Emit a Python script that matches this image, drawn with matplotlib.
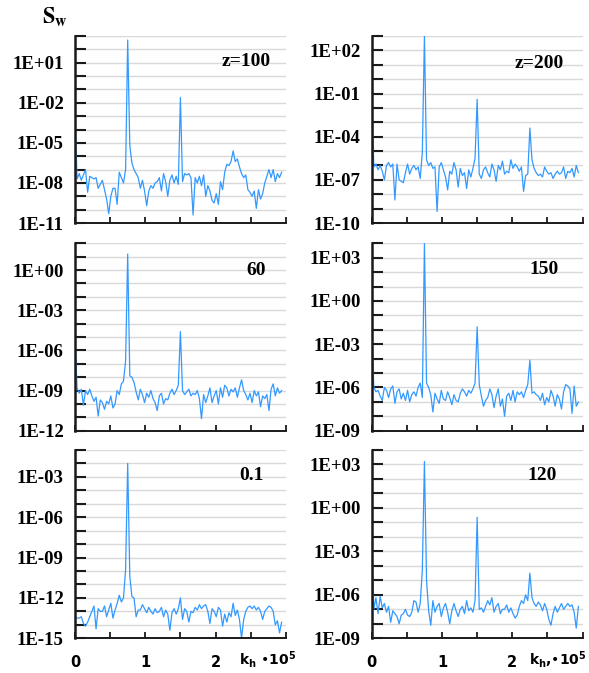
import numpy as np
import matplotlib.pyplot as plt
from matplotlib.ticker import FixedLocator, FuncFormatter, MultipleLocator, NullLocator

# k_h step (in units of 1e-5); one value per step in every series below
dk = 0.03

# log10(S_w)
logs_z100 = [
    -3.0, -7.7, -7.3, -7.8, -7.4, -7.0, -8.7, -7.5, -7.6, -7.7,
    -7.6, -8.4, -8.1, -7.8, -8.5, -9.2, -10.3, -9.0, -8.4, -8.4,
    -9.6, -7.2, -7.6, -8.0, -7.0, 2.7, -5.2, -6.5, -7.0, -7.3,
    -7.6, -8.4, -7.8, -8.6, -9.7, -8.6, -8.2, -8.4, -8.0, -7.9,
    -7.6, -8.6, -7.3, -7.9, -9.0, -7.8, -7.4, -8.0, -7.5, -8.1,
    -1.6, -7.9, -7.3, -7.4, -7.3, -7.6, -10.4, -7.6, -8.0, -7.5,
    -8.2, -7.4, -9.0, -8.2, -8.6, -9.3, -9.5, -8.8, -9.6, -7.9,
    -8.5, -7.2, -6.6, -6.7, -6.4, -5.6, -6.4, -6.2, -6.8, -7.3,
    -7.6, -7.4, -8.5, -8.7, -9.0, -8.6, -9.9, -8.5, -9.2, -8.8,
    -8.0, -7.5, -7.0, -7.6, -7.0, -7.9, -7.3, -7.6, -7.2,
]
logs_z200 = [
    -1.3, -6.1, -5.9, -6.3, -6.0, -6.4, -7.0, -6.0, -5.8, -6.1,
    -5.9, -8.4, -5.9, -7.0, -7.1, -7.2, -6.5, -5.9, -6.6, -6.2,
    -6.0, -6.3, -6.1, -6.9, -5.1, 3.0, -5.6, -6.0, -5.8, -6.2,
    -6.1, -9.2, -6.1, -5.8, -6.3, -6.8, -7.7, -6.4, -6.6, -5.8,
    -6.3, -7.5, -6.2, -6.7, -6.5, -7.6, -6.3, -6.8, -6.2, -5.5,
    -1.4, -6.6, -6.9, -6.3, -6.1, -6.5, -6.8, -5.9, -6.3, -7.1,
    -6.0, -6.3, -5.7, -6.6, -6.4, -6.5, -5.6, -6.2, -5.9, -6.1,
    -6.4, -6.1, -7.8, -6.7, -6.6, -3.4, -5.6, -6.2, -6.5, -6.7,
    -6.6, -6.8, -6.1, -6.4, -6.6, -6.5, -6.9, -6.6, -6.4, -6.6,
    -6.5, -6.1, -6.9, -6.4, -6.5, -6.2, -6.8, -6.0, -6.5,
]
logs_z60 = [
    -5.1, -8.8, -9.2, -8.9, -10.1, -9.0, -9.3, -8.9, -9.4, -9.8,
    -9.5, -10.9, -9.7, -9.9, -10.4, -9.8, -10.0, -9.4, -10.3, -10.0,
    -9.0, -9.3, -8.5, -8.3, -6.8, 1.2, -7.9, -8.0, -8.4, -9.1,
    -9.7, -8.9, -9.3, -9.9, -9.2, -9.5, -9.0, -9.6, -9.9, -10.5,
    -9.4, -9.2, -10.0, -9.6, -9.7, -9.2, -8.9, -9.3, -9.0, -8.6,
    -4.6, -9.0, -9.3, -9.1, -8.9, -9.4, -9.2, -9.3, -9.0, -9.6,
    -11.1, -9.3, -9.9, -9.4, -8.8, -9.9, -9.4, -9.0, -10.0, -8.8,
    -9.5, -8.6, -8.8, -9.4, -8.9, -9.1, -8.8, -9.5, -8.8, -8.2,
    -9.0, -9.3, -9.7, -9.2, -9.9, -9.0, -9.4, -9.1, -10.2, -9.4,
    -9.6, -9.3, -10.5, -8.9, -8.5, -9.4, -8.8, -9.2, -9.0,
]
logs_z150 = [
    -1.9, -6.0, -6.3, -6.2, -6.6, -6.9, -6.0, -6.2, -6.7, -6.1,
    -5.9, -7.1, -6.3, -6.1, -6.8, -6.4, -6.9, -6.2, -7.0, -6.5,
    -6.3, -6.6, -6.0, -5.7, -6.7, 4.0, -5.7, -6.0, -6.5, -7.7,
    -6.4, -6.8, -7.1, -6.2, -6.8, -6.9, -6.3, -6.7, -7.2, -6.5,
    -6.9, -7.0, -6.4, -6.1, -6.3, -6.6, -6.2, -6.4, -6.1, -5.7,
    -1.8, -5.8, -6.6, -7.3, -6.9, -6.7, -6.1, -6.5, -7.4, -6.6,
    -6.1, -7.3, -6.8, -8.0, -6.6, -6.4, -6.9, -6.2, -7.0, -6.3,
    -6.5, -6.3, -6.7, -6.2, -5.8, -4.1, -6.4, -6.3, -6.5, -6.6,
    -6.9, -6.4, -7.2, -6.7, -7.0, -6.2, -6.6, -7.3, -6.5, -6.8,
    -7.5, -6.3, -5.8, -5.9, -6.1, -7.8, -5.9, -7.3, -7.0,
]
logs_z01 = [
    -13.4, -13.5, -13.5, -13.4, -13.9, -14.1, -13.8, -13.4, -13.0, -12.6,
    -14.3, -12.8, -13.0, -13.0, -12.6, -13.4, -12.9, -12.4, -13.5, -12.9,
    -12.4, -11.8, -12.3, -12.0, -9.9, -2.0, -10.4, -11.9, -12.0, -13.4,
    -12.9, -12.9, -12.5, -12.8, -13.1, -12.7, -13.0, -13.2, -12.8, -13.1,
    -13.0, -12.7, -13.4, -12.9, -13.2, -14.4, -13.1, -12.8, -13.2, -12.8,
    -12.0, -13.6, -12.8, -13.0, -13.8, -13.0, -13.1, -12.7, -12.9, -12.5,
    -12.8, -12.6, -12.5, -13.0, -13.9, -12.8, -13.0, -13.4, -12.7, -12.9,
    -14.1, -13.2, -13.8, -13.1, -13.4, -12.4, -13.3, -12.9, -13.6, -15.0,
    -13.6, -13.0, -12.7, -12.6, -12.8, -12.6, -12.9, -12.7, -13.0, -13.6,
    -13.0, -12.8, -12.6, -12.7, -13.0, -14.0, -13.7, -14.6, -13.8,
]
logs_z120 = [
    -2.2, -7.0, -6.2, -7.3, -6.1, -6.9, -6.6, -7.2, -6.8, -7.9,
    -7.1, -7.3, -7.5, -8.0, -7.4, -7.3, -7.0, -7.4, -7.5, -7.2,
    -6.4, -6.5, -7.2, -6.6, -4.3, 3.2, -5.0, -7.1, -8.1, -6.4,
    -7.2, -6.8, -6.6, -7.5, -6.9, -6.6, -7.2, -8.0, -7.1, -6.6,
    -7.1, -7.5, -7.0, -6.8, -7.3, -6.4, -7.1, -6.9, -7.2, -6.4,
    -0.65, -7.0, -6.9, -7.2, -6.8, -6.4, -6.7, -6.2, -7.2, -6.8,
    -6.6, -7.3, -7.0, -7.0, -6.7, -7.2, -6.9, -7.3, -7.6, -7.4,
    -6.8, -6.4, -6.6, -6.0, -6.4, -4.5, -6.2, -6.6, -6.8, -6.5,
    -6.7, -7.1, -6.6, -7.0, -7.7, -8.1, -7.3, -6.8, -7.2, -6.9,
    -6.6, -7.0, -6.8, -6.6, -6.8, -6.7, -7.2, -8.3, -6.8,
]

# (series, panel text, lowest decade, highest decade)
panels = [
    [(logs_z100, "z=100", -11, 3), (logs_z200, "z=200", -10, 3)],
    [(logs_z60, "60", -12, 2), (logs_z150, "150", -9, 4)],
    [(logs_z01, "0.1", -15, -1), (logs_z120, "120", -9, 4)],
]
xlabels = ["k$_\\mathbf{h}$ •10$^\\mathbf{5}$",
           "k$_\\mathbf{h}$,•10$^\\mathbf{5}$"]

line_color = "#3399ff"
dark = "#1a1a1a"

fig = plt.figure(figsize=(5.89, 6.73), dpi=100)

col_left = [0.1273, 0.6311]
col_width = 0.358
row_bottom = [0.6686, 0.3600, 0.0516]
row_height = [0.2779, 0.2785, 0.2798]
text_pos = [[(0.814, 0.862), (0.794, 0.854)],
            [(0.861, 0.857), (0.817, 0.861)],
            [(0.837, 0.862), (0.809, 0.862)]]
xlabel_pos = [0.777, 0.745]


def make_fmt(lo):
    def fmt(v, pos):
        e = int(round(np.log10(v)))
        return f"1E{e:+03d}" if (e - lo) % 3 == 0 else ""
    return fmt


for r, row in enumerate(panels):
    for c, (logs, label, lo, hi) in enumerate(row):
        ax = fig.add_axes([col_left[c], row_bottom[r], col_width, row_height[r]])
        k = np.arange(len(logs)) * dk
        ax.plot(k, 10.0 ** np.array(logs), color=line_color, lw=0.9)

        ax.set_yscale("log")
        ax.set_ylim(10.0 ** lo, 10.0 ** hi)
        ax.set_xlim(0, 3)
        ax.yaxis.set_major_locator(FixedLocator(10.0 ** np.arange(lo, hi + 1)))
        ax.yaxis.set_minor_locator(NullLocator())
        ax.yaxis.set_major_formatter(FuncFormatter(make_fmt(lo)))
        ax.xaxis.set_major_locator(MultipleLocator(0.5))
        if r == 2:
            ax.xaxis.set_major_formatter(FuncFormatter(
                lambda v, p: f"{int(round(v))}" if abs(v - round(v)) < 1e-6 and v < 2.9 else ""))
        else:
            ax.xaxis.set_major_formatter(FuncFormatter(lambda v, p: ""))

        ax.grid(axis="y", color="#d9d9d9", lw=1.0)
        ax.set_axisbelow(True)
        for s in ["top", "right"]:
            ax.spines[s].set_visible(False)
        ax.spines["left"].set_linewidth(1.8)
        ax.spines["bottom"].set_linewidth(1.4)
        ax.spines["left"].set_color(dark)
        ax.spines["bottom"].set_color(dark)

        ax.tick_params(axis="y", direction="in", length=8, width=1.5, color=dark, pad=8)
        ax.tick_params(axis="x", direction="in", length=4.5, width=1.3, color=dark, pad=12)
        for t in ax.get_yticklabels():
            t.set_fontfamily("Liberation Serif")
            t.set_fontweight("bold")
            t.set_fontsize(13.5)
        for t in ax.get_xticklabels():
            t.set_fontfamily("DejaVu Sans")
            t.set_fontweight("bold")
            t.set_fontsize(10.5)

        tx, ty = text_pos[r][c]
        ax.text(tx, ty, label, transform=ax.transAxes, ha="center", va="center",
                fontfamily="Liberation Serif", fontweight="bold", fontsize=14)

        if r == 2:
            ax.text(xlabel_pos[c], -0.115, xlabels[c], transform=ax.transAxes,
                    ha="left", va="center", fontsize=10, fontweight="bold",
                    fontfamily="DejaVu Sans", math_fontfamily="dejavusans")

fig.text(0.072, 0.966, r"$\mathbf{S}_\mathbf{w}$", ha="left", va="baseline",
         fontsize=16, math_fontfamily="stix")

fig.savefig("out.png", dpi=100)
